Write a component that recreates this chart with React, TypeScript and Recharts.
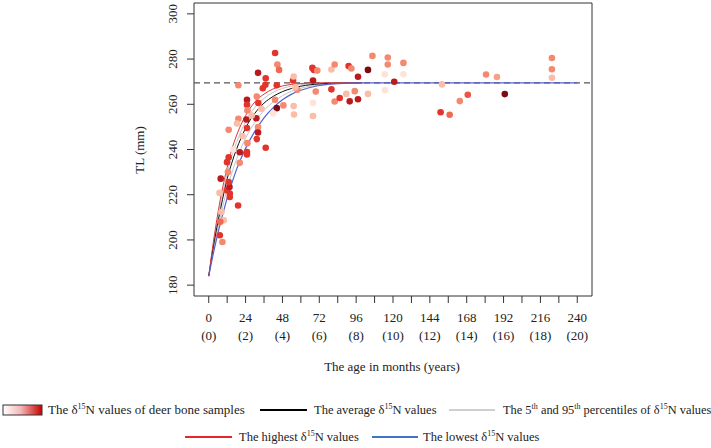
import React from "react";
import {
  ComposedChart,
  Scatter,
  Line,
  XAxis,
  YAxis,
  ReferenceLine,
  ReferenceArea,
} from "recharts";

// ---- Deer bone samples: age (months), total length TL (mm), δ15N (‰) ----
const sampleAge = [
  7.0, 7.2, 8.9, 8.3, 7.8, 13.7, 13.7, 11.9, 13.5, 11.9, 13.0, 13.0, 19.1, 9.8, 7.5, 13.0, 12.5,
  20.2, 20.2, 19.3, 19.3, 18.4, 24.9, 24.9, 25.2, 24.5, 24.9, 25.2, 24.9, 24.9, 22.0, 16.0,
  32.1, 37.1, 35.2, 36.9, 31.3, 32.3, 34.3, 31.0, 32.1, 32.1, 31.3, 37.1, 43.2, 44.7, 45.8,
  44.3, 44.3, 43.2, 48.6, 42.0, 28.0,
  54.9, 55.3, 57.7, 56.4, 55.3, 55.5, 67.5, 68.5, 70.7, 67.9, 69.7, 67.9, 67.9,
  79.9, 82.0, 79.9, 82.0, 85.3, 91.1, 92.9, 97.2, 95.1, 91.8, 97.2, 103.7, 103.7, 106.6,
  114.6, 114.8, 116.6, 116.6, 120.8, 126.8, 126.8, 89.6,
  151.9, 151.0, 156.9, 163.5, 168.7, 180.6, 187.7, 192.8, 223.5, 223.5, 223.5,
];
const sampleTL = [
  220.8, 202.1, 199.1, 212.4, 227.1, 220.5, 219.0, 222.0, 223.4, 234.4, 236.6, 248.7, 215.2, 208.7, 208.0, 225.6, 230.0,
  234.1, 238.8, 253.6, 268.4, 251.5, 262.0, 259.8, 257.3, 253.3, 249.5, 242.8, 238.9, 237.8, 246.0, 240.0,
  273.9, 271.5, 267.1, 268.6, 263.4, 260.6, 258.0, 253.8, 249.9, 247.5, 244.6, 240.8, 282.7, 277.6, 275.2,
  268.4, 258.3, 262.0, 259.5, 256.0, 255.0,
  270.5, 272.3, 266.4, 267.5, 259.2, 255.5, 276.1, 275.2, 274.9, 270.5, 265.6, 254.8, 260.7,
  275.4, 277.6, 266.6, 261.2, 262.8, 276.9, 275.8, 272.2, 265.8, 261.3, 262.2, 275.2, 264.6, 281.4,
  273.3, 266.2, 280.7, 277.6, 270.0, 278.3, 273.3, 264.6,
  268.8, 256.5, 255.4, 261.4, 264.2, 273.2, 272.1, 264.5, 280.5, 275.5, 271.7,
];
const sampleD15N = [
  3.8, 6.3, 4.7, 3.8, 7.2, 6.3, 6.3, 6.3, 7.2, 6.3, 6.3, 4.7, 6.3, 3.8, 5.5, 6.3, 4.7,
  4.7, 7.2, 4.7, 4.7, 3.8, 7.2, 6.3, 4.7, 7.2, 6.3, 4.7, 6.3, 6.3, 3.8, 3.0,
  7.2, 6.3, 6.3, 6.3, 4.7, 6.3, 3.8, 7.2, 4.7, 7.2, 6.3, 6.3, 6.3, 4.7, 5.5,
  6.3, 8.0, 4.7, 4.7, 3.0, 3.8,
  6.3, 3.8, 4.7, 3.8, 3.8, 3.8, 6.3, 6.3, 4.7, 7.2, 4.7, 3.8, 3.0,
  3.8, 4.7, 6.3, 4.7, 6.3, 6.3, 4.7, 7.2, 4.7, 7.2, 7.2, 8.0, 3.8, 4.7,
  3.0, 3.0, 4.7, 4.7, 7.2, 4.7, 3.0, 3.8,
  3.8, 6.3, 5.5, 4.7, 5.8, 4.7, 4.3, 8.0, 4.7, 4.7, 3.8,
];

// ---- Fitted growth curves ----
const curveAge = [0, 3, 6, 9, 12, 15, 18, 21, 24, 30, 36, 42, 48, 54, 60, 72, 84, 100];
const highestTL = [184, 199, 212, 223, 232, 240, 246, 251, 255, 261, 264.5, 266.8, 268.1, 268.8, 269.2, 269.5, 269.5, 269.5];
const pct95TL = [184, 198, 210, 220.5, 229.5, 237, 243, 248, 252.3, 258.6, 262.6, 265.3, 267, 268.1, 268.7, 269.3, 269.5, 269.5];
const averageTL = [184, 197, 208, 218, 227, 234, 240, 245, 249.5, 256, 260.5, 263.5, 265.6, 267, 268, 269, 269.4, 269.5];
const pct5TL = [184, 195.5, 205.5, 214.5, 222.8, 229.5, 235.5, 240.5, 245, 252, 257.3, 261, 263.8, 265.8, 267.1, 268.6, 269.3, 269.5];
const lowestAge = [...curveAge, 120, 160, 200, 240];
const lowestTL = [184, 194, 203, 211, 218.5, 225, 231, 236, 240.5, 248, 254, 258.5, 262, 264.5, 266.2, 268.3, 269.1, 269.5, 269.5, 269.5, 269.5, 269.5];

const asymptoteTL = 269.5;

const xTicks = [0, 12, 24, 36, 48, 60, 72, 84, 96, 108, 120, 132, 144, 156, 168, 180, 192, 204, 216, 228, 240];
const xLabelTicks = [0, 24, 48, 72, 96, 120, 144, 168, 192, 216, 240];
const yTicks = [180, 200, 220, 240, 260, 280, 300];

const samples = sampleAge.map((m, i) => ({ m, tl: sampleTL[i], d15n: sampleD15N[i] }));
const toSeries = (ages: number[], vals: number[]) => ages.map((m, i) => ({ m, tl: vals[i] }));

const FONT = '"Liberation Serif", "Times New Roman", serif';

// Reds palette for δ15N shading
const REDS = ["#fde3d8", "#f9bba6", "#f48a70", "#ef6a50", "#e2322a", "#bb1b1e", "#7d0b12"];
const D_MIN = 3.0;
const D_MAX = 8.0;

function hexToRgb(h: string) {
  const n = parseInt(h.slice(1), 16);
  return [(n >> 16) & 255, (n >> 8) & 255, n & 255];
}
function shade(d: number) {
  const t = Math.max(0, Math.min(1, (d - D_MIN) / (D_MAX - D_MIN))) * (REDS.length - 1);
  const i = Math.min(REDS.length - 2, Math.floor(t));
  const f = t - i;
  const a = hexToRgb(REDS[i]);
  const b = hexToRgb(REDS[i + 1]);
  const c = a.map((v, k) => Math.round(v + (b[k] - v) * f));
  return `rgb(${c[0]},${c[1]},${c[2]})`;
}

const SampleDot = (props: any) => {
  const { cx, cy, payload } = props;
  if (cx == null || cy == null) return null;
  return <circle cx={cx} cy={cy} r={3.3} fill={shade(payload.d15n)} stroke="none" />;
};

const XTick = (props: any) => {
  const { x, y, payload } = props;
  const v = payload.value;
  if (!xLabelTicks.includes(v)) return null;
  return (
    <g>
      <text x={x} y={y + 17} textAnchor="middle" fontFamily={FONT} fontSize={13} fill="#222">
        {v}
      </text>
      <text x={x} y={y + 35} textAnchor="middle" fontFamily={FONT} fontSize={13} fill="#222">
        ({v / 12})
      </text>
    </g>
  );
};

const YTick = (props: any) => {
  const { y, payload } = props;
  const bx = 177;
  return (
    <text
      x={bx}
      y={y}
      transform={`rotate(-90, ${bx}, ${y})`}
      textAnchor="middle"
      fontFamily={FONT}
      fontSize={13}
      fill="#222"
    >
      {payload.value}
    </text>
  );
};

function LegendText({
  x,
  y,
  size,
  parts,
}: {
  x: number;
  y: number;
  size: number;
  parts: (string | [string])[];
}) {
  const out: React.ReactNode[] = [];
  let raised = false;
  parts.forEach((p, i) => {
    if (Array.isArray(p)) {
      out.push(
        <tspan key={i} dy={raised ? 0 : -5} fontSize={8}>
          {p[0]}
        </tspan>
      );
      raised = true;
    } else {
      out.push(
        <tspan key={i} dy={raised ? 5 : 0}>
          {p}
        </tspan>
      );
      raised = false;
    }
  });
  return (
    <text x={x} y={y} fontFamily={FONT} fontSize={size} fill="#222">
      {out}
    </text>
  );
}

export default function App() {
  return (
    <div style={{ position: "absolute", left: 0, top: 0, width: 711, height: 448, background: "#fff" }}>
      <ComposedChart
        width={711}
        height={448}
        margin={{ top: 3, right: 119, left: 0, bottom: 0 }}
      >
        <XAxis
          type="number"
          dataKey="m"
          domain={[-9.6, 249.6]}
          ticks={xTicks}
          interval={0}
          allowDataOverflow
          height={152}
          axisLine={false}
          tickLine={{ stroke: "#333" }}
          tickSize={7}
          tick={<XTick />}
        />
        <YAxis
          type="number"
          dataKey="tl"
          domain={[175.2, 304.8]}
          ticks={yTicks}
          interval={0}
          allowDataOverflow
          width={194}
          axisLine={false}
          tickLine={{ stroke: "#333" }}
          tickSize={7}
          tick={<YTick />}
        />
        <ReferenceArea
          x1={-9.6}
          x2={249.6}
          y1={175.2}
          y2={304.8}
          fill="none"
          stroke="#333"
          strokeWidth={1}
          ifOverflow="visible"
        />
        <ReferenceLine y={asymptoteTL} stroke="#555" strokeDasharray="6 4" strokeWidth={1.2} />
        <Scatter data={samples} dataKey="tl" shape={<SampleDot />} isAnimationActive={false} />
        <Line data={toSeries(curveAge, pct95TL)} dataKey="tl" type="monotone" stroke="#c4c4c4" strokeWidth={1} dot={false} isAnimationActive={false} />
        <Line data={toSeries(curveAge, pct5TL)} dataKey="tl" type="monotone" stroke="#c4c4c4" strokeWidth={1} dot={false} isAnimationActive={false} />
        <Line data={toSeries(curveAge, averageTL)} dataKey="tl" type="monotone" stroke="#111" strokeWidth={1} dot={false} isAnimationActive={false} />
        <Line data={toSeries(curveAge, highestTL)} dataKey="tl" type="monotone" stroke="#d83a3a" strokeWidth={1} dot={false} isAnimationActive={false} />
        <Line data={toSeries(lowestAge, lowestTL)} dataKey="tl" type="monotone" stroke="#5560d0" strokeWidth={1.2} dot={false} isAnimationActive={false} />
      </ComposedChart>

      <svg
        width={711}
        height={448}
        style={{ position: "absolute", left: 0, top: 0, pointerEvents: "none" }}
      >
        <defs>
          <linearGradient id="d15nGrad" x1="0" x2="1" y1="0" y2="0">
            <stop offset="0%" stopColor="#ffffff" />
            <stop offset="45%" stopColor="#f6b8b8" />
            <stop offset="100%" stopColor="#c80000" />
          </linearGradient>
        </defs>
        {/* axis titles */}
        <text
          x={144}
          y={150}
          transform="rotate(-90, 144, 150)"
          textAnchor="middle"
          fontFamily={FONT}
          fontSize={13}
          fill="#222"
        >
          TL (mm)
        </text>
        <text x={392} y={371} textAnchor="middle" fontFamily={FONT} fontSize={13} fill="#222">
          The age in months (years)
        </text>

        {/* legend row 1 */}
        <rect x={3} y={405} width={39} height={10} fill="url(#d15nGrad)" stroke="#333" strokeWidth={1} />
        <LegendText x={48} y={414} size={13} parts={["The δ", ["15"], "N values of deer bone samples"]} />
        <line x1={260} x2={307} y1={410} y2={410} stroke="#000" strokeWidth={2} />
        <LegendText x={314} y={414} size={12.5} parts={["The average δ", ["15"], "N values"]} />
        <line x1={449} x2={495} y1={410} y2={410} stroke="#cfcfcf" strokeWidth={2} />
        <LegendText
          x={503}
          y={414}
          size={12.4}
          parts={["The 5", ["th"], " and 95", ["th"], " percentiles of δ", ["15"], "N values"]}
        />

        {/* legend row 2 */}
        <line x1={185} x2={232} y1={437} y2={437} stroke="#e8262a" strokeWidth={2} />
        <LegendText x={239} y={441} size={12.5} parts={["The highest δ", ["15"], "N values"]} />
        <line x1={372} x2={418} y1={437} y2={437} stroke="#4472c4" strokeWidth={2} />
        <LegendText x={423} y={441} size={12.5} parts={["The lowest δ", ["15"], "N values"]} />
      </svg>
    </div>
  );
}
